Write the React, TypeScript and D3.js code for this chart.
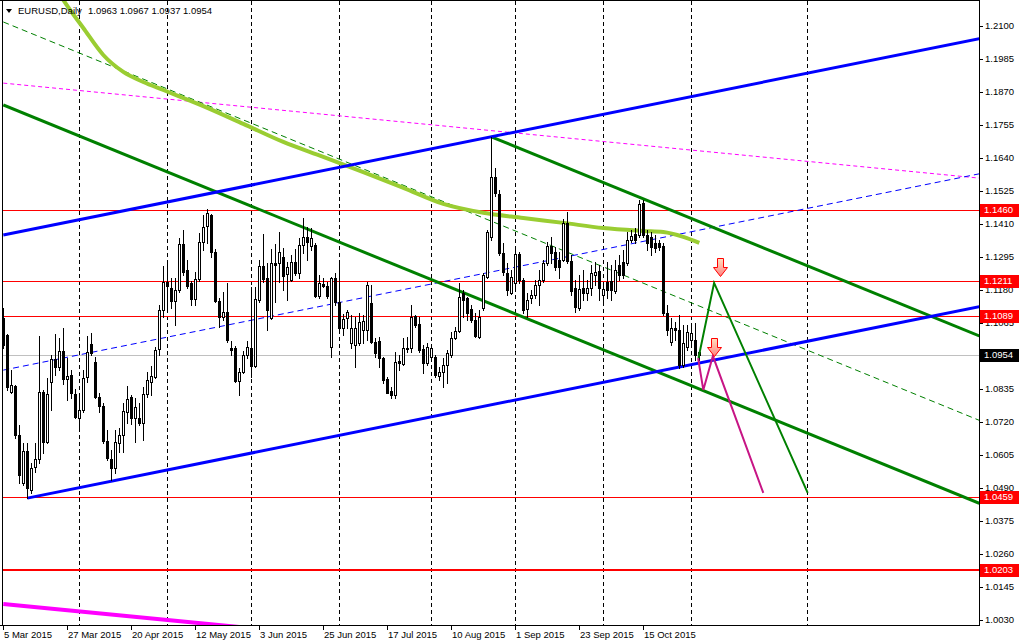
import React from 'react';
import * as d3 from 'd3';

// ---------- DATA ----------
const symbolTitle = 'EURUSD,Daily';
const lastQuote = ['1.0963', '1.0967', '1.0937', '1.0954'];
const firstDate = new Date(2015, 2, 5);

const open = [
  1.1082, 1.1024, 1.0825, 1.0846, 1.0675, 1.0508, 1.0620, 1.0483, 1.0564, 1.0592,
  1.0825, 1.0651, 1.0860, 1.0940, 1.0912, 1.0968, 1.0870, 1.0884, 1.0818, 1.0734,
  1.0762, 1.0877, 1.0992, 1.0929, 1.0808, 1.0776, 1.0655, 1.0592, 1.0560, 1.0648,
  1.0675, 1.0755, 1.0808, 1.0734, 1.0734, 1.0717, 1.0818, 1.0860, 1.0877, 1.0975,
  1.1110, 1.1208, 1.1187, 1.1142, 1.1180, 1.1340, 1.1250, 1.1205, 1.1149, 1.1219,
  1.1347, 1.1403, 1.1442, 1.1313, 1.1142, 1.1086, 1.1103, 1.0978, 1.0978, 1.0864,
  1.0894, 1.0954, 1.0978, 1.0915, 1.1145, 1.1264, 1.1222, 1.1082, 1.1275, 1.1275,
  1.1296, 1.1236, 1.1215, 1.1278, 1.1240, 1.1337, 1.1365, 1.1333, 1.1337, 1.1159,
  1.1201, 1.1194, 1.0982, 1.1222, 1.1138, 1.1048, 1.1082, 1.0996, 1.0989, 1.0996,
  1.1041, 1.1041, 1.1135, 1.0999, 1.1003, 1.0943, 1.0870, 1.0829, 1.0815, 1.0933,
  1.0922, 1.0978, 1.0978, 1.1089, 1.1062, 1.0975, 1.0926, 1.0947, 1.0947, 1.0880,
  1.0894, 1.0919, 1.0954, 1.1013, 1.1038, 1.1170, 1.1152, 1.1114, 1.1076, 1.1017,
  1.1117, 1.1226, 1.1365, 1.1575, 1.1515, 1.1310, 1.1240, 1.1170, 1.1205, 1.1306,
  1.1215, 1.1114, 1.1152, 1.1163, 1.1198, 1.1215, 1.1275, 1.1333, 1.1313, 1.1285,
  1.1285, 1.1413, 1.1282, 1.1187, 1.1117, 1.1187, 1.1170, 1.1187, 1.1233, 1.1247,
  1.1163, 1.1208, 1.1212, 1.1177, 1.1268, 1.1278, 1.1275, 1.1354, 1.1375, 1.1372,
  1.1483, 1.1372, 1.1365, 1.1344, 1.1344, 1.1333, 1.1100, 1.0999, 1.1048, 1.1041,
  1.0919, 1.0982, 1.1006, 1.1006, 1.0963,
];
const high = [
  1.1117, 1.1027, 1.0901, 1.0850, 1.0710, 1.0648, 1.0648, 1.0578, 1.0648, 1.1020,
  1.0832, 1.0873, 1.0954, 1.1027, 1.1013, 1.1048, 1.0943, 1.0901, 1.0836, 1.0815,
  1.0901, 1.1020, 1.1031, 1.0947, 1.0822, 1.0787, 1.0692, 1.0623, 1.0692, 1.0699,
  1.0787, 1.0846, 1.0815, 1.0804, 1.0787, 1.0843, 1.0894, 1.0915, 1.0982, 1.1128,
  1.1264, 1.1282, 1.1222, 1.1222, 1.1361, 1.1389, 1.1285, 1.1212, 1.1243, 1.1379,
  1.1442, 1.1463, 1.1445, 1.1323, 1.1152, 1.1173, 1.1205, 1.1003, 1.0985, 1.0908,
  1.0968, 1.1003, 1.1191, 1.1191, 1.1285, 1.1375, 1.1275, 1.1323, 1.1340, 1.1382,
  1.1326, 1.1278, 1.1303, 1.1323, 1.1361, 1.1431, 1.1400, 1.1396, 1.1344, 1.1233,
  1.1222, 1.1208, 1.1226, 1.1240, 1.1275, 1.1096, 1.1110, 1.1093, 1.1086, 1.1100,
  1.1093, 1.1208, 1.1198, 1.1013, 1.1017, 1.0947, 1.0877, 1.0843, 1.0964, 1.0954,
  1.1013, 1.1017, 1.1128, 1.1093, 1.1086, 1.0989, 1.0996, 1.0989, 1.0954, 1.0912,
  1.0943, 1.0971, 1.1034, 1.1052, 1.1205, 1.1180, 1.1156, 1.1128, 1.1100, 1.1110,
  1.1240, 1.1389, 1.1714, 1.1605, 1.1529, 1.1344, 1.1275, 1.1250, 1.1333, 1.1313,
  1.1222, 1.1170, 1.1180, 1.1215, 1.1250, 1.1285, 1.1347, 1.1365, 1.1330, 1.1313,
  1.1428, 1.1452, 1.1303, 1.1215, 1.1233, 1.1250, 1.1215, 1.1268, 1.1278, 1.1268,
  1.1208, 1.1278, 1.1268, 1.1285, 1.1303, 1.1320, 1.1382, 1.1389, 1.1396, 1.1494,
  1.1494, 1.1389, 1.1382, 1.1372, 1.1354, 1.1344, 1.1128, 1.1082, 1.1069, 1.1093,
  1.1059, 1.1059, 1.1059, 1.1065, 1.0967,
];
const low = [
  1.0978, 1.0832, 1.0822, 1.0664, 1.0508, 1.0501, 1.0455, 1.0473, 1.0546, 1.0578,
  1.0613, 1.0648, 1.0762, 1.0884, 1.0901, 1.0853, 1.0797, 1.0804, 1.0734, 1.0703,
  1.0755, 1.0860, 1.0954, 1.0804, 1.0755, 1.0648, 1.0588, 1.0518, 1.0543, 1.0616,
  1.0616, 1.0717, 1.0713, 1.0651, 1.0710, 1.0658, 1.0808, 1.0815, 1.0873, 1.0954,
  1.1086, 1.1114, 1.1117, 1.1059, 1.1173, 1.1233, 1.1187, 1.1128, 1.1128, 1.1212,
  1.1320, 1.1344, 1.1296, 1.1138, 1.1052, 1.1076, 1.0999, 1.0954, 1.0860, 1.0815,
  1.0891, 1.0943, 1.0877, 1.0912, 1.1138, 1.1208, 1.1041, 1.1079, 1.1138, 1.1208,
  1.1180, 1.1145, 1.1212, 1.1233, 1.1222, 1.1310, 1.1285, 1.1320, 1.1156, 1.1152,
  1.1191, 1.1152, 1.0947, 1.1128, 1.1041, 1.1024, 1.1048, 1.0978, 1.0912, 1.0989,
  1.0996, 1.1006, 1.0996, 1.0947, 1.0912, 1.0857, 1.0822, 1.0804, 1.0804, 1.0901,
  1.0919, 1.0964, 1.0964, 1.1052, 1.0964, 1.0891, 1.0919, 1.0936, 1.0877, 1.0867,
  1.0843, 1.0857, 1.0947, 1.1010, 1.1034, 1.1086, 1.1076, 1.1069, 1.1017, 1.1013,
  1.1110, 1.1222, 1.1354, 1.1508, 1.1303, 1.1233, 1.1163, 1.1166, 1.1191, 1.1205,
  1.1100, 1.1086, 1.1135, 1.1152, 1.1128, 1.1208, 1.1268, 1.1275, 1.1250, 1.1222,
  1.1282, 1.1275, 1.1163, 1.1103, 1.1110, 1.1145, 1.1145, 1.1163, 1.1198, 1.1145,
  1.1128, 1.1152, 1.1145, 1.1170, 1.1215, 1.1222, 1.1268, 1.1347, 1.1344, 1.1365,
  1.1365, 1.1320, 1.1303, 1.1313, 1.1320, 1.1093, 1.1024, 1.0989, 1.1006, 1.0908,
  1.0912, 1.0971, 1.0989, 1.0936, 1.0937,
];
const close = [
  1.0989, 1.0843, 1.0850, 1.0675, 1.0536, 1.0620, 1.0490, 1.0560, 1.0592, 1.0825,
  1.0651, 1.0818, 1.0940, 1.0912, 1.0968, 1.0870, 1.0880, 1.0822, 1.0738, 1.0762,
  1.0873, 1.0964, 1.0961, 1.0808, 1.0776, 1.0655, 1.0595, 1.0560, 1.0651, 1.0675,
  1.0759, 1.0801, 1.0734, 1.0773, 1.0717, 1.0818, 1.0867, 1.0880, 1.0971, 1.1110,
  1.1208, 1.1194, 1.1142, 1.1180, 1.1340, 1.1243, 1.1194, 1.1149, 1.1219, 1.1347,
  1.1400, 1.1449, 1.1313, 1.1142, 1.1086, 1.1103, 1.1006, 1.0971, 1.0864, 1.0894,
  1.0954, 1.0982, 1.0915, 1.1149, 1.1264, 1.1219, 1.1110, 1.1275, 1.1268, 1.1313,
  1.1229, 1.1261, 1.1278, 1.1240, 1.1337, 1.1365, 1.1347, 1.1361, 1.1159, 1.1205,
  1.1194, 1.1159, 1.1222, 1.1138, 1.1048, 1.1079, 1.1103, 1.1048, 1.1048, 1.1069,
  1.1072, 1.1198, 1.0999, 1.0961, 1.0943, 1.0867, 1.0822, 1.0815, 1.0929, 1.0926,
  1.0978, 1.0975, 1.1086, 1.1059, 1.0971, 1.0926, 1.0982, 1.0978, 1.0884, 1.0894,
  1.0919, 1.0961, 1.1013, 1.1038, 1.1156, 1.1145, 1.1100, 1.1076, 1.1020, 1.1086,
  1.1233, 1.1382, 1.1575, 1.1519, 1.1310, 1.1243, 1.1180, 1.1226, 1.1306, 1.1215,
  1.1110, 1.1145, 1.1163, 1.1198, 1.1215, 1.1275, 1.1333, 1.1310, 1.1261, 1.1261,
  1.1413, 1.1282, 1.1177, 1.1121, 1.1184, 1.1170, 1.1187, 1.1240, 1.1243, 1.1187,
  1.1184, 1.1180, 1.1180, 1.1250, 1.1233, 1.1233, 1.1354, 1.1368, 1.1354, 1.1480,
  1.1372, 1.1344, 1.1330, 1.1326, 1.1330, 1.1100, 1.1041, 1.1048, 1.1041, 1.0919,
  1.0996, 1.1034, 1.1031, 1.0954, 1.0954,
];

// moving average (read at bar indices)
const maBars = [10, 15, 20, 25, 30, 35, 40, 50, 60, 70, 80, 90, 100, 110, 120, 130, 140, 150, 160, 165, 170, 174];
const maValues = [1.2313, 1.2191, 1.2093, 1.1999, 1.1940, 1.1905, 1.1877, 1.1821, 1.1759, 1.1696, 1.1644, 1.1591, 1.1536, 1.1480, 1.1449, 1.1431, 1.1414, 1.1396, 1.1386, 1.1382, 1.1365, 1.1344];

const dateTickLabels = ['5 Mar 2015', '27 Mar 2015', '20 Apr 2015', '12 May 2015', '3 Jun 2015', '25 Jun 2015', '17 Jul 2015', '10 Aug 2015', '1 Sep 2015', '23 Sep 2015', '15 Oct 2015'];
const dateTickStep = 16;
const priceTicks = [1.2100, 1.1985, 1.1870, 1.1755, 1.1640, 1.1525, 1.1410, 1.1295, 1.1180, 1.1065, 1.0950, 1.0835, 1.0720, 1.0605, 1.0490, 1.0375, 1.0260, 1.0145, 1.0030];

const thinLevels = [1.1460, 1.1211, 1.1089, 1.0459];
const thickLevels = [1.0203];
const bidPrice = 1.0954;

// trend lines: [barA, priceA, barB, priceB] (extended to the right edge)
const blueChannelUpper = [0, 1.1372, 122, 1.1714];
const blueChannelLower = [6, 1.0455, 128, 1.0797];
const blueChannelMid = [0, 1.0901, 122, 1.1243];
const greenChannelLower = [0, 1.1825, 122, 1.1131];
const greenChannelUpper = [122, 1.1714, 244, 1.1020];
const greenDashed = [0, 1.2114, 122, 1.1420];
const magentaDotted = [0, 1.1901, 244, 1.1570];
const magentaThick = [0, 1.0086, 244, 0.9755];

// projections (bar slot, price)
const greenProjBars = [173.8, 177.7, 201.1];
const greenProjPrices = [1.0943, 1.1205, 1.0473];
const pinkProjBars = [173.7, 175, 177.4, 190];
const pinkProjPrices = [1.0943, 1.0832, 1.0950, 1.0473];
const arrowBars = [179.2, 177.7];
const arrowPrices = [1.1229, 1.0950];

// ---------- CHART ----------
const W = 1020;
const H = 643;
const L = 3;
const R = 979;
const T = 1;
const B = 625;
const FONT = '"Liberation Sans", Arial, sans-serif';

export default function App() {
  const n = open.length;
  const x = d3.scaleLinear().domain([0, 244]).range([3.3, 979.3]);
  const y = d3.scaleLinear().domain([1.003, 1.21]).range([620.1, 26]);

  // trading dates
  const dates: Date[] = [];
  let d = new Date(firstDate);
  while (dates.length < n) {
    const wd = d.getDay();
    if (wd !== 0 && wd !== 6) dates.push(new Date(d));
    d = d3.timeDay.offset(d, 1);
  }
  const lastDate = dates[n - 1];
  const gridSlots: number[] = [];
  for (let m = 3; m <= 11; m++) {
    const ms = new Date(2015, m, 1);
    if (ms <= lastDate) {
      const idx = dates.findIndex((dt) => dt >= ms);
      if (idx >= 0) gridSlots.push(idx);
    } else {
      gridSlots.push(n - 1 + d3.timeDay.count(lastDate, ms));
    }
  }

  const ray = (p: number[]) => {
    const [b1, p1, b2, p2] = p;
    const s = (p2 - p1) / (b2 - b1);
    const bEnd = 244;
    return { x1: x(b1), y1: y(p1), x2: x(bEnd), y2: y(p1 + s * (bEnd - b1)) };
  };

  const maLine = d3
    .line<number>()
    .x((_, i) => x(maBars[i]))
    .y((v) => y(v))
    .curve(d3.curveMonotoneX)(maValues) as string;

  const projLine = (bars: number[], prices: number[]) =>
    d3
      .line<number>()
      .x((_, i) => x(bars[i]))
      .y((v) => y(v))(prices) as string;

  const rayEl = (p: number[], stroke: string, width: number, dash?: string, key?: string) => {
    const r = ray(p);
    return (
      <line key={key} x1={r.x1} y1={r.y1} x2={r.x2} y2={r.y2} stroke={stroke} strokeWidth={width} strokeDasharray={dash} />
    );
  };

  const arrowPath = (cx: number, tipY: number) => {
    const top = tipY - 18;
    return `M${cx - 3},${top} L${cx + 3},${top} L${cx + 3},${tipY - 9} L${cx + 7},${tipY - 9} L${cx},${tipY} L${cx - 7},${tipY - 9} L${cx - 3},${tipY - 9} Z`;
  };

  const box = (price: number, fill: string, key: string) => {
    const yy = Math.round(y(price));
    return (
      <g key={key}>
        <rect x={980} y={yy - 6} width={39} height={13} fill={fill} />
        <text x={984} y={yy} dy="0.35em" fill="#fff" fontSize={9.5} fontFamily={FONT}>
          {price.toFixed(4)}
        </text>
      </g>
    );
  };

  return (
    <svg width={W} height={H} style={{ position: 'absolute', left: 0, top: 0, background: '#fff' }}>
      <defs>
        <clipPath id="plot">
          <rect x={L} y={T} width={R - L} height={B - T} />
        </clipPath>
        <linearGradient id="arrowFill" x1="0" y1="0" x2="0" y2="1">
          <stop offset="0" stopColor="#ffe0c0" />
          <stop offset="1" stopColor="#ff8080" />
        </linearGradient>
      </defs>
      <rect x={0} y={0} width={W} height={H} fill="#fff" />

      {/* vertical grid */}
      <g shapeRendering="crispEdges">
        {gridSlots.map((s, i) => (
          <line key={i} x1={Math.round(x(s)) + 0.5} x2={Math.round(x(s)) + 0.5} y1={T} y2={B} stroke="#000" strokeDasharray="4,3" />
        ))}
      </g>

      <g clipPath="url(#plot)">
        {/* horizontal levels */}
        <g shapeRendering="crispEdges">
          <line x1={L} x2={R} y1={Math.round(y(bidPrice)) + 0.5} y2={Math.round(y(bidPrice)) + 0.5} stroke="#c0c0c0" />
          {thinLevels.map((p, i) => (
            <line key={i} x1={L} x2={R} y1={Math.round(y(p)) + 0.5} y2={Math.round(y(p)) + 0.5} stroke="#ff0000" />
          ))}
          {thickLevels.map((p, i) => (
            <line key={i} x1={L} x2={R} y1={Math.round(y(p))} y2={Math.round(y(p))} stroke="#ff0000" strokeWidth={2} />
          ))}
        </g>

        {/* thin lines */}
        {rayEl(magentaDotted, '#ff00ff', 1, '4,3', 'md')}
        {rayEl(greenDashed, '#008000', 1, '6,4', 'gd')}
        {rayEl(blueChannelMid, '#0000ff', 1, '6,4', 'bm')}

        {/* moving average */}
        <path d={maLine} fill="none" stroke="#9acd32" strokeWidth={4} />

        {/* thick lines */}
        {rayEl(magentaThick, '#ff00ff', 4, undefined, 'mt')}
        {rayEl(greenChannelLower, '#008000', 3, undefined, 'gl')}
        {rayEl(greenChannelUpper, '#008000', 3, undefined, 'gu')}
        {rayEl(blueChannelUpper, '#0000ff', 3, undefined, 'bu')}
        {rayEl(blueChannelLower, '#0000ff', 3, undefined, 'bl')}

        {/* candles */}
        <g shapeRendering="crispEdges">
          {open.map((o, i) => {
            const c = close[i];
            const cx = Math.round(x(i));
            const yh = Math.round(y(high[i]));
            const yl = Math.round(y(low[i]));
            const yo = Math.round(y(o));
            const yc = Math.round(y(c));
            const top = Math.min(yo, yc);
            const bot = Math.max(yo, yc);
            const bull = c >= o;
            return (
              <g key={i}>
                <line x1={cx + 0.5} x2={cx + 0.5} y1={yh} y2={yl + 1} stroke="#000" />
                {bot - top >= 1 ? (
                  <rect x={cx - 0.5} y={top + 0.5} width={2} height={bot - top} fill={bull ? '#fff' : '#000'} stroke="#000" />
                ) : (
                  <line x1={cx - 1} x2={cx + 2} y1={top + 0.5} y2={top + 0.5} stroke="#000" />
                )}
              </g>
            );
          })}
        </g>

        {/* projections */}
        <path d={projLine(pinkProjBars, pinkProjPrices)} fill="none" stroke="#c71585" strokeWidth={2} />
        <path d={projLine(greenProjBars, greenProjPrices)} fill="none" stroke="#008000" strokeWidth={2} />
        {arrowBars.map((b, i) => (
          <path key={i} d={arrowPath(Math.round(x(b)) + 0.5, Math.round(y(arrowPrices[i])) + 0.5)} fill="url(#arrowFill)" stroke="#ff0000" strokeWidth={1} />
        ))}
      </g>

      {/* frame */}
      <g shapeRendering="crispEdges" stroke="#000">
        <line x1={2.5} x2={2.5} y1={0} y2={B} />
        <line x1={0} x2={R} y1={0.5} y2={0.5} />
        <line x1={R + 0.5} x2={R + 0.5} y1={0} y2={B + 1} />
        <line x1={0} x2={R + 1} y1={B + 0.5} y2={B + 0.5} />
        {priceTicks.map((p, i) => (
          <line key={i} x1={R} x2={R + 4} y1={Math.round(y(p)) + 0.5} y2={Math.round(y(p)) + 0.5} />
        ))}
        {dateTickLabels.map((_, i) => (
          <line key={i} x1={Math.round(x(i * dateTickStep)) + 0.5} x2={Math.round(x(i * dateTickStep)) + 0.5} y1={B} y2={B + 5} />
        ))}
      </g>

      {/* price labels */}
      <g fontFamily={FONT} fontSize={9.5} fill="#000">
        {priceTicks.map((p, i) => (
          <text key={i} x={985} y={y(p)} dy="0.35em">
            {p.toFixed(4)}
          </text>
        ))}
        {dateTickLabels.map((t, i) => (
          <text key={i} x={Math.round(x(i * dateTickStep)) + 1} y={638}>
            {t}
          </text>
        ))}
      </g>

      {thinLevels.map((p, i) => box(p, '#ff0000', 'l' + i))}
      {thickLevels.map((p, i) => box(p, '#ff0000', 't' + i))}
      {box(bidPrice, '#000', 'bid')}

      {/* title */}
      <path d="M6,9 L12,9 L9,13 Z" fill="#000" />
      <text x={18} y={14} fontFamily={FONT} fontSize={9.5} fill="#000">
        {symbolTitle}
      </text>
      <text x={88} y={14} fontFamily={FONT} fontSize={9.5} fill="#000">
        {lastQuote.join(' ')}
      </text>
    </svg>
  );
}
